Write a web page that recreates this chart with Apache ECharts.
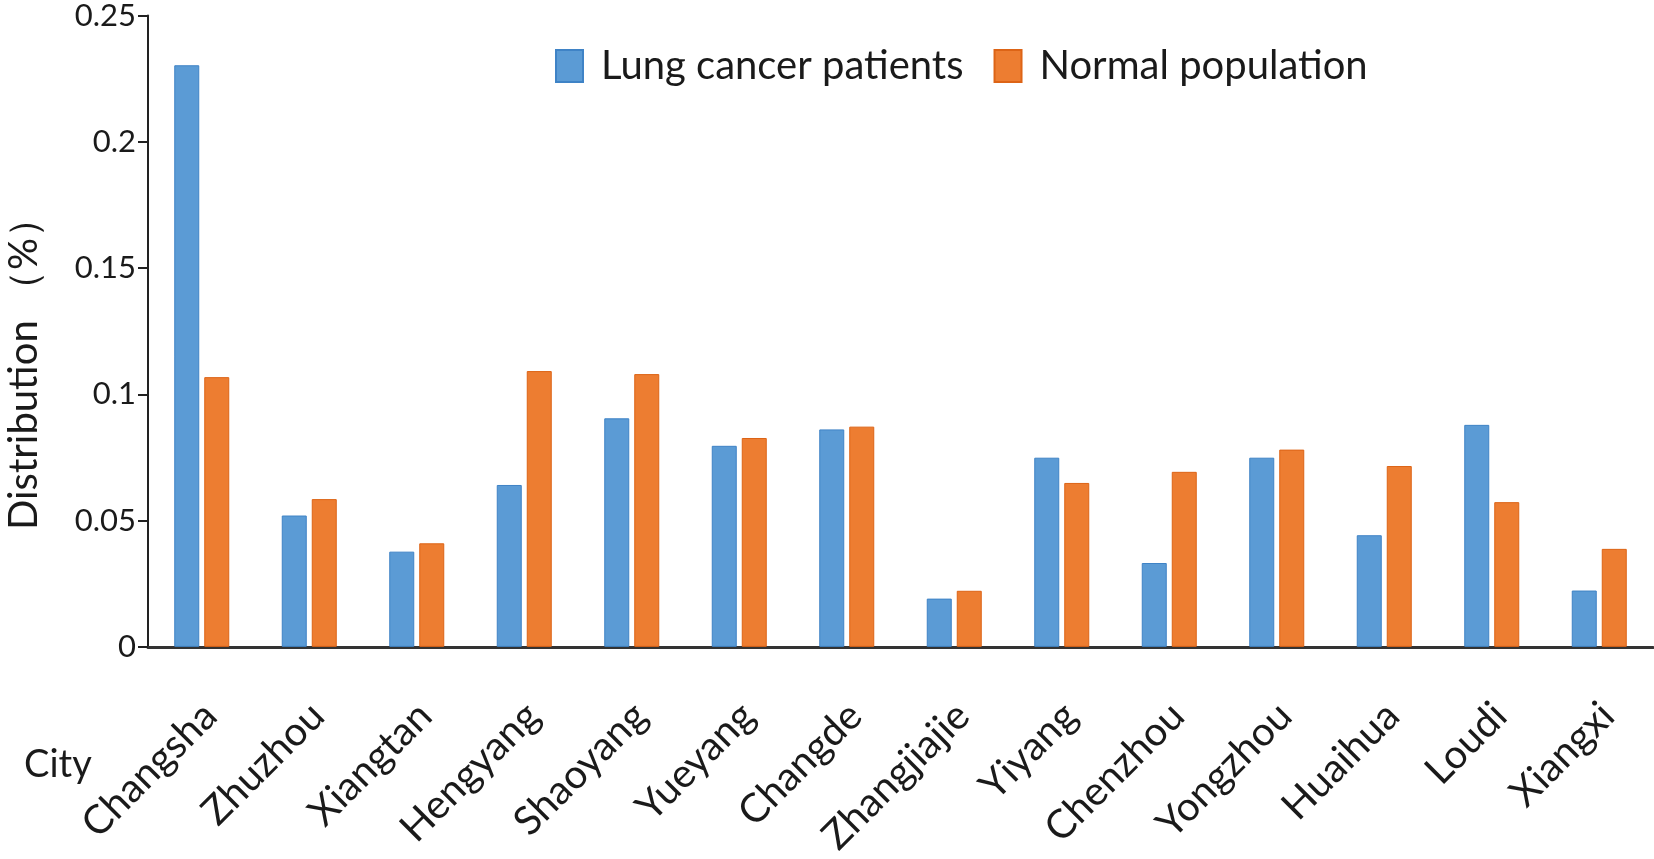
<!DOCTYPE html>
<html>
<head>
<meta charset="utf-8">
<script src="https://cdn.jsdelivr.net/npm/echarts@6/dist/echarts.min.js"></script>
<style>
  html, body { margin: 0; padding: 0; background: #fff; }
  #chart { width: 1654px; height: 859px; }
</style>
</head>
<body>
<div id="chart"></div>
<script>
const cities = ['Changsha', 'Zhuzhou', 'Xiangtan', 'Hengyang', 'Shaoyang', 'Yueyang', 'Changde',
  'Zhangjiajie', 'Yiyang', 'Chenzhou', 'Yongzhou', 'Huaihua', 'Loudi', 'Xiangxi']
const lungCancer = [0.2303, 0.0520, 0.0377, 0.0641, 0.0905, 0.0796, 0.0861,
  0.0191, 0.0749, 0.0332, 0.0749, 0.0442, 0.0879, 0.0223]
const normalPop = [0.1068, 0.0585, 0.0410, 0.1092, 0.1080, 0.0827, 0.0872,
  0.0222, 0.0649, 0.0693, 0.0781, 0.0716, 0.0573, 0.0388]
const yTicks = { min: 0, max: 0.25, interval: 0.05 }

const font = 'Lato'
const chart = echarts.init(document.getElementById('chart'))

chart.setOption({
  animation: false,
  textStyle: { fontFamily: font, color: '#1a1a1a' },
  grid: { left: 148, right: 1, top: 15, bottom: 208, containLabel: false },
  legend: {
    left: 550,
    top: 41,
    itemWidth: 27,
    itemHeight: 32,
    itemGap: 30,
    icon: 'rect',
    textStyle: { fontFamily: font, fontSize: 40, color: '#1a1a1a', padding: [0, 0, 0, 13] },
    data: ['Lung cancer patients', 'Normal population']
  },
  xAxis: {
    type: 'category',
    data: cities,
    axisLine: { lineStyle: { color: '#333', width: 3 } },
    axisTick: { show: false },
    axisLabel: {
      rotate: 45,
      margin: 54,
      interval: 0,
      fontSize: 40,
      lineHeight: 24,
      verticalAlign: 'top',
      fontFamily: font,
      color: '#1a1a1a'
    }
  },
  yAxis: {
    type: 'value',
    min: yTicks.min,
    max: yTicks.max,
    interval: yTicks.interval,
    splitLine: { show: false },
    axisLine: { show: true, lineStyle: { color: '#222', width: 2 } },
    axisTick: { show: true, inside: false, length: 10, lineStyle: { color: '#222', width: 2 } },
    axisLabel: {
      fontSize: 31,
      margin: 12,
      color: '#1a1a1a',
      fontFamily: font,
      formatter: v => (v === 0 ? '0' : String(+v.toFixed(2)))
    }
  },
  graphic: [
    {
      type: 'text',
      x: 24,
      y: 364,
      rotation: Math.PI / 2,
      style: {
        text: 'Distribution （%）', fontSize: 40, fontFamily: font, fill: '#1a1a1a',
        align: 'center', verticalAlign: 'middle'
      }
    },
    {
      type: 'text',
      x: 24,
      y: 765,
      style: {
        text: 'City', fontSize: 38, fontFamily: font, fill: '#1a1a1a',
        align: 'left', verticalAlign: 'middle'
      }
    }
  ],
  series: [
    {
      name: 'Lung cancer patients',
      type: 'bar',
      data: lungCancer,
      barWidth: 25,
      barGap: '20%',
      itemStyle: { color: '#5B9BD5', borderColor: '#3F83C6', borderWidth: 1 }
    },
    {
      name: 'Normal population',
      type: 'bar',
      data: normalPop,
      barWidth: 25,
      itemStyle: { color: '#ED7D31', borderColor: '#DD6416', borderWidth: 1 }
    }
  ]
})
</script>
</body>
</html>
